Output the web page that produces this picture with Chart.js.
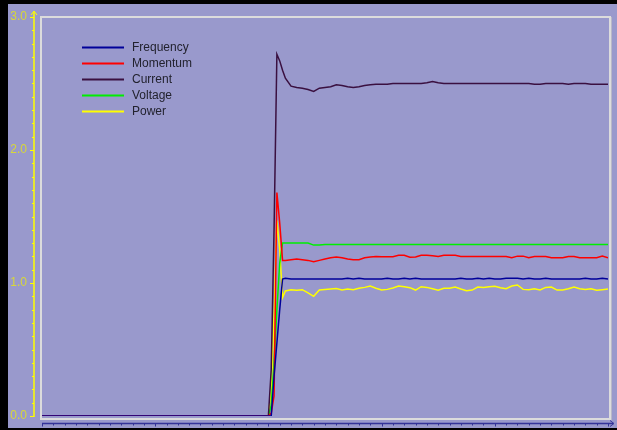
<!DOCTYPE html>
<html>
<head>
<meta charset="utf-8">
<title>Signals</title>
<script src="https://cdn.jsdelivr.net/npm/chart.js@4"></script>
<style>
  html, body { margin: 0; padding: 0; background: #9999cc; overflow: hidden; }
  canvas { display: block; }
</style>
</head>
<body>
<canvas id="chartSignals" width="617" height="430"></canvas>
<script>
// sample positions (x axis runs 0..200)
const times = [0, 80, 81, 82, 83, 84, 85, 86, 88,
  90, 92, 94, 96, 98, 100, 102, 104, 106, 108, 110, 112, 114, 116, 118,
  120, 122, 124, 126, 128, 130, 132, 134, 136, 138, 140, 142, 144, 146, 148,
  150, 152, 154, 156, 158, 160, 162, 164, 166, 168, 170, 172, 174, 176, 178,
  180, 182, 184, 186, 188, 190, 192, 194, 196, 198, 200];

const seriesNames = ['Frequency', 'Momentum', 'Current', 'Voltage', 'Power'];
const seriesColors = ['#000099', '#ff0000', '#3a1040', '#00ee00', '#ffff00'];

const frequency = [0, 0, 0, 0.3, 0.55, 0.8, 1.03, 1.035, 1.03,
  1.03, 1.03, 1.03, 1.03, 1.03, 1.03, 1.03, 1.03, 1.03, 1.035, 1.03, 1.035, 1.03, 1.03, 1.03,
  1.03, 1.036, 1.03, 1.03, 1.036, 1.03, 1.036, 1.03, 1.03, 1.03, 1.03, 1.03, 1.03, 1.03, 1.036,
  1.03, 1.03, 1.036, 1.03, 1.036, 1.03, 1.03, 1.036, 1.036, 1.036, 1.03, 1.036, 1.03, 1.03, 1.036,
  1.03, 1.03, 1.03, 1.03, 1.03, 1.03, 1.036, 1.03, 1.03, 1.036, 1.03];

const momentum = [0, 0, 0.02, 0.15, 1.68, 1.45, 1.17, 1.17, 1.175,
  1.18, 1.175, 1.17, 1.16, 1.17, 1.18, 1.19, 1.195, 1.19, 1.18, 1.175, 1.175, 1.19, 1.195, 1.2,
  1.198, 1.198, 1.198, 1.208, 1.208, 1.193, 1.195, 1.208, 1.208, 1.205, 1.2, 1.208, 1.208, 1.208, 1.2,
  1.2, 1.2, 1.2, 1.2, 1.2, 1.2, 1.2, 1.2, 1.19, 1.202, 1.202, 1.19, 1.2, 1.2, 1.2,
  1.19, 1.19, 1.19, 1.2, 1.2, 1.19, 1.19, 1.19, 1.19, 1.202, 1.19];

const current = [0, 0, 0.35, 1.4, 2.72, 2.67, 2.6, 2.54, 2.48,
  2.47, 2.465, 2.455, 2.44, 2.465, 2.47, 2.475, 2.49, 2.485, 2.475, 2.47, 2.475, 2.485, 2.49, 2.495,
  2.495, 2.495, 2.5, 2.5, 2.5, 2.5, 2.5, 2.5, 2.505, 2.515, 2.505, 2.5, 2.5, 2.5, 2.5,
  2.5, 2.5, 2.5, 2.5, 2.5, 2.5, 2.5, 2.5, 2.5, 2.5, 2.5, 2.5, 2.495, 2.495, 2.5,
  2.5, 2.5, 2.5, 2.495, 2.5, 2.5, 2.5, 2.495, 2.495, 2.495, 2.495];

const voltage = [0, 0, 0.08, 0.4, 0.8, 1.15, 1.3, 1.3, 1.3,
  1.3, 1.3, 1.3, 1.285, 1.285, 1.29, 1.29, 1.29, 1.29, 1.29, 1.29, 1.29, 1.29, 1.29, 1.29,
  1.29, 1.29, 1.29, 1.29, 1.29, 1.29, 1.29, 1.29, 1.29, 1.29, 1.29, 1.29, 1.29, 1.29, 1.29,
  1.29, 1.29, 1.29, 1.29, 1.29, 1.29, 1.29, 1.29, 1.29, 1.29, 1.29, 1.29, 1.29, 1.29, 1.29,
  1.29, 1.29, 1.29, 1.29, 1.29, 1.29, 1.29, 1.29, 1.29, 1.29, 1.29];

const power = [0, 0, 0.2, 0.75, 1.47, 1.25, 0.89, 0.94, 0.95,
  0.945, 0.95, 0.925, 0.9, 0.948, 0.952, 0.955, 0.958, 0.948, 0.955, 0.95, 0.96, 0.967, 0.977, 0.96,
  0.947, 0.952, 0.962, 0.977, 0.972, 0.965, 0.947, 0.972, 0.967, 0.957, 0.945, 0.96, 0.96, 0.97, 0.955,
  0.942, 0.947, 0.97, 0.967, 0.972, 0.975, 0.965, 0.957, 0.977, 0.985, 0.952, 0.95, 0.957, 0.947, 0.967,
  0.97, 0.947, 0.947, 0.957, 0.97, 0.957, 0.952, 0.957, 0.945, 0.95, 0.955];

const yTicks = [0, 1, 2, 3];

const allSeries = [frequency, momentum, current, voltage, power];

// backgrounds, frame, axes and legend drawn by hand like the old control
const framePlugin = {
  id: 'framePlugin',
  beforeDraw(chart) {
    const ctx = chart.ctx;
    const w = chart.width, h = chart.height;
    ctx.save();
    ctx.fillStyle = '#9999cc';
    ctx.fillRect(0, 0, w, h);
    ctx.fillStyle = '#000000';
    ctx.fillRect(0, 0, 8, h);
    ctx.fillRect(0, 0, w, 4);
    ctx.fillRect(0, h - 2, w, 2);
    // light frame round the plot
    ctx.strokeStyle = '#dcdcdc';
    ctx.lineWidth = 2;
    ctx.strokeRect(41, 17, 569, 402);
    ctx.strokeStyle = '#b8b8c8';
    ctx.lineWidth = 1;
    ctx.beginPath();
    ctx.moveTo(611.5, 17);
    ctx.lineTo(611.5, 420);
    ctx.stroke();
    ctx.restore();
  },
  afterDraw(chart) {
    const ctx = chart.ctx;
    const y = chart.scales.y;
    const x = chart.scales.x;
    ctx.save();

    // y axis (yellow)
    const ax = 34;
    ctx.strokeStyle = '#ffff00';
    ctx.lineWidth = 1.5;
    ctx.beginPath();
    ctx.moveTo(ax, y.getPixelForValue(0) + 1);
    ctx.lineTo(ax, 12);
    ctx.stroke();
    ctx.lineWidth = 1;
    for (let i = 0; i <= 30; i++) {
      const py = Math.round(y.getPixelForValue(i / 10)) + 0.5;
      const len = i % 10 === 0 ? 4 : 2;
      ctx.beginPath();
      ctx.moveTo(ax - len, py);
      ctx.lineTo(ax, py);
      ctx.stroke();
    }
    // arrow head
    ctx.beginPath();
    ctx.moveTo(ax - 3, 15);
    ctx.lineTo(ax, 11);
    ctx.lineTo(ax + 3, 15);
    ctx.stroke();

    // x axis (dark blue)
    const ay = 423.5;
    ctx.strokeStyle = '#333399';
    ctx.lineWidth = 1.5;
    ctx.beginPath();
    ctx.moveTo(x.getPixelForValue(0), ay);
    ctx.lineTo(613, ay);
    ctx.stroke();
    ctx.lineWidth = 1;
    for (let t = 0; t <= 200; t += 4) {
      const px = Math.round(x.getPixelForValue(t)) + 0.5;
      const len = t % 40 === 0 ? 3 : 2;
      ctx.beginPath();
      ctx.moveTo(px, ay);
      ctx.lineTo(px, ay + len);
      ctx.stroke();
    }
    ctx.beginPath();
    ctx.moveTo(610, ay - 3);
    ctx.lineTo(614, ay);
    ctx.lineTo(610, ay + 3);
    ctx.stroke();

    // legend
    ctx.font = '12px "Liberation Sans", Arial, sans-serif';
    ctx.textBaseline = 'middle';
    chart.data.datasets.forEach((ds, i) => {
      const ly = Math.round(47 + i * 16.1) + 0.5;
      ctx.strokeStyle = ds.borderColor;
      ctx.lineWidth = 2;
      ctx.beginPath();
      ctx.moveTo(82, ly);
      ctx.lineTo(124, ly);
      ctx.stroke();
      ctx.fillStyle = '#22222e';
      ctx.fillText(ds.label, 132, ly + 0.5);
    });
    ctx.restore();
  }
};

function buildDatasets() {
  return seriesNames.map((name, i) => ({
    label: name,
    data: times.map((t, k) => ({ x: t, y: allSeries[i][k] })),
    borderColor: seriesColors[i],
    borderWidth: 1.5,
    pointRadius: 0,
    tension: 0,
    fill: false
  }));
}

new Chart(document.getElementById('chartSignals'), {
  type: 'line',
  data: { datasets: buildDatasets() },
  options: {
    responsive: false,
    animation: false,
    layout: { padding: { left: 8, right: 9, top: 17, bottom: 14 } },
    plugins: {
      legend: { display: false },
      tooltip: { enabled: false }
    },
    scales: {
      x: { type: 'linear', min: 0, max: 200, display: false },
      y: {
        min: 0,
        max: 3,
        afterBuildTicks: s => { s.ticks = yTicks.map(v => ({ value: v })); },
        afterFit: s => { s.width = 34; s.paddingTop = 0; s.paddingBottom = 0; },
        grid: { display: false, drawTicks: false },
        border: { display: false },
        ticks: {
          color: '#d8d838',
          padding: 15,
          font: { family: '"Liberation Sans", Arial, sans-serif', size: 12 },
          callback: v => Number(v).toFixed(1)
        }
      }
    }
  },
  plugins: [framePlugin]
});
</script>
</body>
</html>
